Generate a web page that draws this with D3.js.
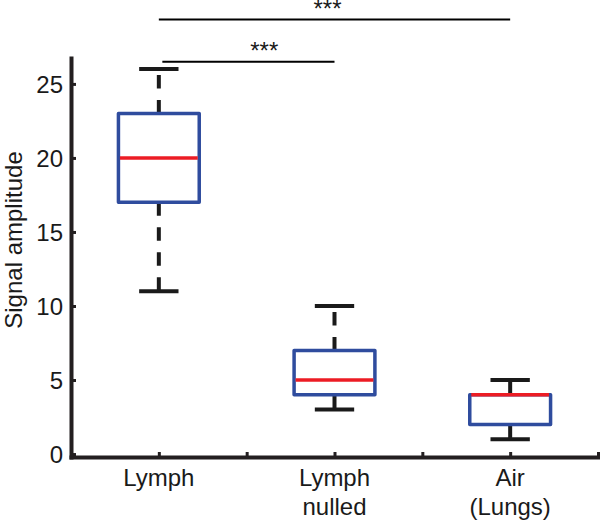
<!DOCTYPE html>
<html>
<head>
<meta charset="utf-8">
<script src="https://cdn.jsdelivr.net/npm/d3@7"></script>
<style>
  body { margin: 0; background: #fff; }
  text { font-family: "Liberation Sans", Arial, sans-serif; fill: #1a1a1a; }
</style>
</head>
<body>
<div id="chart"></div>
<script>
// box plot data
const groups = ["Lymph", "Lymph nulled", "Air (Lungs)"];
const groupLabels = [["Lymph"], ["Lymph", "nulled"], ["Air", "(Lungs)"]];
const whiskerLow = [11, 3, 1];
const quart1 = [17, 4, 2];
const medians = [20, 5, 4];
const quart3 = [23, 7, 4];
const whiskerHigh = [26, 10, 5];

const yTicks = [0, 5, 10, 15, 20, 25];
const xTicks = [0.5, 1, 1.5, 2, 2.5, 3, 3.5];

// significance bars: from group, to group, level, star position
const sigFrom = [1.02, 1];
const sigTo = [2, 3];
const sigLevel = [26.5, 29.35];
const sigStarX = [1.6, 1.96];
const sigText = ["***", "***"];

const box_color = "#2f4c9e";
const median_color = "#ec1c24";
const ink = "#1a1a1a";

const W = 600, H = 524;

const svg = d3.select("#chart").append("svg")
    .attr("width", W)
    .attr("height", H);

const x = d3.scaleLinear().domain([0.5, 3.5]).range([71, 598]);
const y = d3.scaleLinear().domain([-0.2, 26.75]).range([457, 58]);

const boxHalf = 0.23, capHalf = 0.112;

// axes
const yAxis = svg.append("g")
    .attr("transform", `translate(${x(0.5)},0)`)
    .call(d3.axisLeft(y).tickValues(yTicks).tickSize(-5).tickSizeOuter(0).tickPadding(8));
const xAxis = svg.append("g")
    .attr("transform", `translate(0,${y(-0.2)})`)
    .call(d3.axisBottom(x).tickValues(xTicks).tickSize(-5).tickSizeOuter(0).tickFormat(""));

[yAxis, xAxis].forEach(a => {
    a.select(".domain").attr("stroke", "#231f20").attr("stroke-width", 4).attr("stroke-linecap", "square");
    a.selectAll(".tick line").attr("stroke", "#231f20").attr("stroke-width", 3);
});
yAxis.selectAll(".tick text")
    .attr("font-size", "24px")
    .attr("font-family", "Liberation Sans, Arial, sans-serif")
    .attr("fill", ink)
    .attr("dy", "0.36em");

// category labels
groupLabels.forEach((lines, i) => {
    const t = svg.append("text")
        .attr("x", x(i + 1))
        .attr("y", 486)
        .attr("text-anchor", "middle")
        .attr("font-size", "24px");
    lines.forEach((l, j) => {
        t.append("tspan")
            .attr("x", x(i + 1))
            .attr("dy", j === 0 ? 0 : 29)
            .text(l);
    });
});

// y label
svg.append("text")
    .attr("transform", `translate(22,240) rotate(-90)`)
    .attr("text-anchor", "middle")
    .attr("font-size", "24px")
    .text("Signal amplitude");

// whiskers
const g = svg.append("g");
groups.forEach((name, i) => {
    const cx = x(i + 1);
    g.append("line")
        .attr("x1", cx).attr("x2", cx)
        .attr("y1", y(quart3[i])).attr("y2", y(whiskerHigh[i]))
        .attr("stroke", ink).attr("stroke-width", 4)
        .attr("stroke-dasharray", "13.5,11.5");
    g.append("line")
        .attr("x1", cx).attr("x2", cx)
        .attr("y1", y(quart1[i])).attr("y2", y(whiskerLow[i]))
        .attr("stroke", ink).attr("stroke-width", 4)
        .attr("stroke-dasharray", "13.5,11.5");
    [whiskerHigh[i], whiskerLow[i]].forEach(v => {
        g.append("line")
            .attr("x1", x(i + 1 - capHalf)).attr("x2", x(i + 1 + capHalf))
            .attr("y1", y(v)).attr("y2", y(v))
            .attr("stroke", ink).attr("stroke-width", 4);
    });
    g.append("rect")
        .attr("x", x(i + 1 - boxHalf))
        .attr("y", y(quart3[i]))
        .attr("width", x(i + 1 + boxHalf) - x(i + 1 - boxHalf))
        .attr("height", y(quart1[i]) - y(quart3[i]))
        .attr("fill", "none")
        .attr("stroke", box_color)
        .attr("stroke-width", 3.5)
        .attr("stroke-linejoin", "round");
    g.append("line")
        .attr("x1", x(i + 1 - boxHalf) + 1.5).attr("x2", x(i + 1 + boxHalf) - 1.5)
        .attr("y1", y(medians[i])).attr("y2", y(medians[i]))
        .attr("stroke", median_color).attr("stroke-width", 3.5);
});

// significance bars
sigLevel.forEach((lv, i) => {
    svg.append("line")
        .attr("x1", x(sigFrom[i])).attr("x2", x(sigTo[i]))
        .attr("y1", y(lv)).attr("y2", y(lv))
        .attr("stroke", "#000").attr("stroke-width", 2);
    svg.append("text")
        .attr("x", x(sigStarX[i]))
        .attr("y", y(lv) - 2.5)
        .attr("text-anchor", "middle")
        .attr("font-size", "24px")
        .text(sigText[i]);
});
</script>
</body>
</html>
